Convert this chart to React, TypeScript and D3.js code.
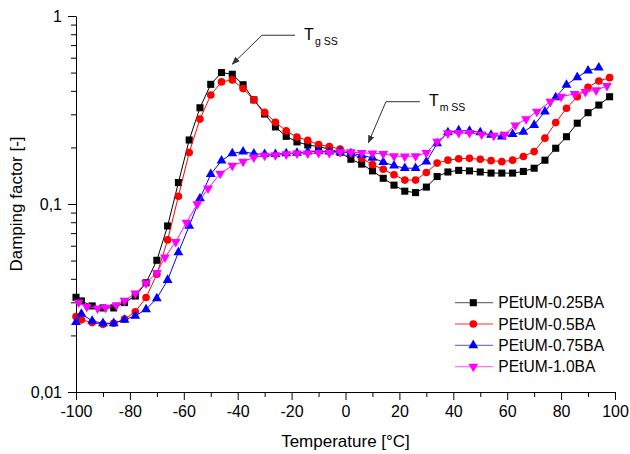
import { useEffect, useRef } from "react";
import * as d3 from "d3";

// temperature grid shared by the 0.25BA, 0.5BA and 0.75BA runs
const temps = [
  -100, -98, -94, -90, -86, -82, -78, -74, -70, -66, -62, -58, -54, -50, -46,
  -42, -38, -34, -30, -26, -22, -18, -14, -10, -6, -2, 2, 6, 10, 14, 18, 22,
  26, 30, 34, 38, 42, 46, 50, 54, 58, 62, 66, 70, 74, 78, 82, 86, 90, 94, 98,
];

const ba025 = [
  0.0319, 0.0305, 0.0287, 0.028, 0.028, 0.0299, 0.0324, 0.0381, 0.0502, 0.0764,
  0.13, 0.219, 0.325, 0.433, 0.5, 0.49, 0.431, 0.358, 0.301, 0.257, 0.229,
  0.214, 0.206, 0.202, 0.196, 0.188, 0.173, 0.163, 0.15, 0.137, 0.126, 0.117,
  0.115, 0.123, 0.14, 0.148, 0.151, 0.15, 0.148, 0.146, 0.146, 0.146, 0.149,
  0.155, 0.171, 0.198, 0.228, 0.269, 0.306, 0.336, 0.372,
];

const ba05 = [
  0.0252, 0.0242, 0.0234, 0.0229, 0.0232, 0.0244, 0.0267, 0.0318, 0.0423,
  0.0644, 0.11, 0.188, 0.283, 0.38, 0.446, 0.457, 0.411, 0.358, 0.307, 0.272,
  0.245, 0.227, 0.218, 0.207, 0.202, 0.196, 0.186, 0.175, 0.162, 0.153, 0.143,
  0.134, 0.134, 0.147, 0.165, 0.171, 0.174, 0.175, 0.173, 0.17, 0.168, 0.171,
  0.179, 0.19, 0.224, 0.271, 0.323, 0.372, 0.418, 0.451, 0.47,
];

// last point of this run is at 94 °C
const ba075 = [
  0.0235, 0.026, 0.0239, 0.0232, 0.0232, 0.0242, 0.0254, 0.0275, 0.0315,
  0.0394, 0.0553, 0.0764, 0.107, 0.144, 0.17, 0.186, 0.19, 0.185, 0.184, 0.184,
  0.186, 0.187, 0.19, 0.191, 0.19, 0.19, 0.186, 0.182, 0.176, 0.167, 0.16,
  0.155, 0.155, 0.168, 0.21, 0.24, 0.246, 0.245, 0.24, 0.233, 0.228, 0.235,
  0.242, 0.263, 0.31, 0.369, 0.43, 0.472, 0.512, 0.531,
];

// the 1.0BA run was sampled on its own temperatures
const temps10 = [
  -99, -96, -92, -89, -85, -82, -78, -74, -70, -67, -63, -59, -55, -51, -46.5,
  -42, -38, -34, -30, -26, -22, -18, -14, -10, -6, -2, 2, 6, 10, 14, 18, 22,
  26, 30, 34, 38, 42, 46, 50.5, 55, 59, 63, 67, 71, 76, 80, 85, 89, 93, 97,
];

const ba10 = [
  0.03, 0.0284, 0.0279, 0.0281, 0.029, 0.0306, 0.0335, 0.0379, 0.0431, 0.052,
  0.063, 0.0796, 0.1, 0.121, 0.145, 0.16, 0.168, 0.177, 0.181, 0.182, 0.184,
  0.186, 0.186, 0.187, 0.187, 0.189, 0.189, 0.187, 0.186, 0.185, 0.18, 0.179,
  0.18, 0.187, 0.215, 0.238, 0.239, 0.239, 0.235, 0.231, 0.234, 0.262, 0.283,
  0.31, 0.35, 0.373, 0.385, 0.395, 0.403, 0.425,
];

const seriesNames = [
  "PEtUM-0.25BA",
  "PEtUM-0.5BA",
  "PEtUM-0.75BA",
  "PEtUM-1.0BA",
];
const seriesColors = ["#000000", "#ff0000", "#0000ff", "#ff00ff"];

const xTicks = [-100, -80, -60, -40, -20, 0, 20, 40, 60, 80, 100];
const yTicks = [0.01, 0.1, 1];
const yTickLabels = ["0,01", "0,1", "1"];

const FONT = "'Liberation Sans', Arial, sans-serif";

type Point = { t: number; v: number };

export default function App() {
  const svgRef = useRef<SVGSVGElement | null>(null);

  useEffect(() => {
    document.body.style.margin = "0";

    const width = 630;
    const height = 454;

    const svg = d3.select(svgRef.current);
    svg.selectAll("*").remove();
    svg.attr("width", width).attr("height", height);

    const x = d3.scaleLinear().domain([-100, 100]).range([76, 615]);
    const y = d3.scaleLog().domain([0.01, 1]).range([392, 16]);

    const series: Point[][] = [
      ba025.map((v, i) => ({ t: temps[i], v })),
      ba05.map((v, i) => ({ t: temps[i], v })),
      ba075.map((v, i) => ({ t: temps[i], v })),
      ba10.map((v, i) => ({ t: temps10[i], v })),
    ];

    const symbols = [
      d3.symbol().type(d3.symbolSquare).size(50),
      d3.symbol().type(d3.symbolCircle).size(46),
      d3.symbol().type(d3.symbolTriangle).size(42),
      d3.symbol().type(d3.symbolTriangle).size(42),
    ];
    const rotations = [0, 0, 0, 180];

    const defs = svg.append("defs");
    defs
      .append("marker")
      .attr("id", "arrowhead")
      .attr("viewBox", "0 0 10 10")
      .attr("refX", 9)
      .attr("refY", 5)
      .attr("markerWidth", 8)
      .attr("markerHeight", 8)
      .attr("markerUnits", "userSpaceOnUse")
      .attr("orient", "auto")
      .append("path")
      .attr("d", "M0,1 L10,5 L0,9 Z")
      .attr("fill", "#333");

    // axes
    const yAxis = svg.append("g").attr("transform", "translate(76,0)");
    yAxis.call(
      d3
        .axisLeft(y)
        .tickValues(yTicks)
        .tickFormat((d, i) => yTickLabels[i])
        .tickSize(8)
        .tickSizeOuter(0)
        .tickPadding(6)
    );
    const yMinor: number[] = [];
    [0.01, 0.1].forEach((dec) => {
      for (let k = 2; k <= 9; k++) yMinor.push(dec * k);
    });
    svg
      .append("g")
      .attr("transform", "translate(76,0)")
      .call(
        d3
          .axisLeft(y)
          .tickValues(yMinor)
          .tickFormat(() => "")
          .tickSize(5)
          .tickSizeOuter(0)
      )
      .call((g) => g.select(".domain").remove());

    const xAxis = svg.append("g").attr("transform", "translate(0,392)");
    xAxis.call(
      d3
        .axisBottom(x)
        .tickValues(xTicks)
        .tickFormat((d) => String(d))
        .tickSize(8)
        .tickSizeOuter(0)
        .tickPadding(6)
    );
    svg
      .append("g")
      .attr("transform", "translate(0,392)")
      .call(
        d3
          .axisBottom(x)
          .tickValues(d3.range(-90, 100, 20))
          .tickFormat(() => "")
          .tickSize(5)
          .tickSizeOuter(0)
      )
      .call((g) => g.select(".domain").remove());

    svg
      .selectAll(".tick text")
      .attr("font-family", FONT)
      .attr("font-size", 16)
      .attr("fill", "#000");
    svg.selectAll(".domain, .tick line").attr("stroke", "#000");

    svg
      .append("text")
      .attr("x", x(0))
      .attr("y", 447)
      .attr("text-anchor", "middle")
      .attr("font-family", FONT)
      .attr("font-size", 17)
      .text("Temperature [°C]");

    svg
      .append("text")
      .attr("transform", `translate(22,${y(0.1)}) rotate(-90)`)
      .attr("text-anchor", "middle")
      .attr("font-family", FONT)
      .attr("font-size", 17)
      .text("Damping factor [-]");

    // data
    const line = d3
      .line<Point>()
      .x((d) => x(d.t))
      .y((d) => y(d.v));

    series.forEach((pts, i) => {
      const g = svg.append("g");
      g.append("path")
        .attr("d", line(pts))
        .attr("fill", "none")
        .attr("stroke", seriesColors[i])
        .attr("stroke-width", 1);
      g.selectAll("path.pt")
        .data(pts)
        .join("path")
        .attr("class", "pt")
        .attr("d", symbols[i]())
        .attr(
          "transform",
          (d) => `translate(${x(d.t)},${y(d.v)}) rotate(${rotations[i]})`
        )
        .attr("fill", seriesColors[i]);
    });

    // annotations
    const notes = [
      { sub: "g SS", tip: [-42, 0.555], elbow: [-31, 0.79], end: -18.7 },
      { sub: "m SS", tip: [8.5, 0.212], elbow: [15, 0.35], end: 27.6 },
    ];
    notes.forEach((n) => {
      const ey = y(n.elbow[1]);
      svg
        .append("path")
        .attr(
          "d",
          `M${x(n.end)},${ey} L${x(n.elbow[0])},${ey} L${x(n.tip[0])},${y(
            n.tip[1]
          )}`
        )
        .attr("fill", "none")
        .attr("stroke", "#333")
        .attr("stroke-width", 1)
        .attr("marker-end", "url(#arrowhead)");
      const t = svg
        .append("text")
        .attr("x", x(n.end) + 9)
        .attr("y", ey + 4.5)
        .attr("font-family", FONT)
        .attr("font-size", 16);
      t.append("tspan").text("T");
      t.append("tspan")
        .attr("font-size", 10.5)
        .attr("dx", 1)
        .attr("dy", 5)
        .text(n.sub);
    });

    // legend
    const legend = svg.append("g");
    seriesNames.forEach((name, i) => {
      const ly = 302.7 + i * 21.3;
      legend
        .append("line")
        .attr("x1", 455)
        .attr("x2", 493)
        .attr("y1", ly)
        .attr("y2", ly)
        .attr("stroke", seriesColors[i])
        .attr("stroke-opacity", 0.55)
        .attr("stroke-width", 1.3);
      legend
        .append("path")
        .attr("d", symbols[i]())
        .attr("transform", `translate(473.3,${ly}) rotate(${rotations[i]})`)
        .attr("fill", seriesColors[i]);
      legend
        .append("text")
        .attr("x", 498.3)
        .attr("y", ly)
        .attr("dy", "0.36em")
        .attr("font-family", FONT)
        .attr("font-size", 15.6)
        .text(name);
    });
  }, []);

  return <svg ref={svgRef} style={{ display: "block" }} />;
}
